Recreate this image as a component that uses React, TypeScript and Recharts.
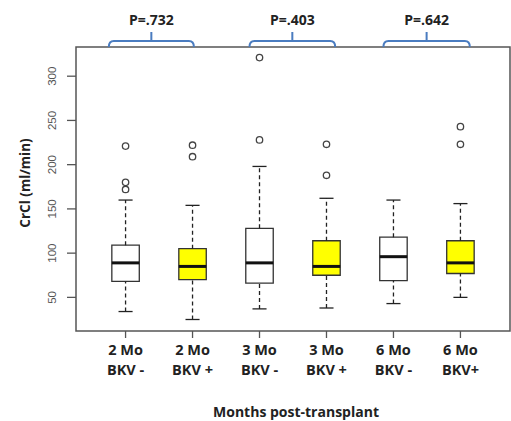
import React from "react";
import {
  ComposedChart,
  XAxis,
  YAxis,
  Scatter,
  ReferenceArea,
  ReferenceLine,
} from "recharts";

// groups, left to right
const months = ["2 Mo", "2 Mo", "3 Mo", "3 Mo", "6 Mo", "6 Mo"];
const groups = ["BKV -", "BKV +", "BKV -", "BKV +", "BKV -", "BKV+"];
const boxFills = ["#ffffff", "#ffff00", "#ffffff", "#ffff00", "#ffffff", "#ffff00"];

// five-number summaries (ml/min)
const lowerWhisker = [34, 25, 37, 38, 43, 50];
const q1 = [68, 70, 66, 75, 69, 77];
const median = [89, 85, 89, 85, 96, 89];
const q3 = [109, 105, 128, 114, 118, 114];
const upperWhisker = [160, 154, 198, 162, 160, 156];
const outliers = [[221, 180, 172], [222, 209], [321, 228], [223, 188], [], [243, 223]];

const yTicks = [50, 100, 150, 200, 250, 300];
const pValues = ["P=.732", "P=.403", "P=.642"];
// brace spans, in group units
const braces = [
  [0.75, 2.02],
  [2.85, 4.13],
  [4.85, 6.14],
];

const X_DOMAIN: [number, number] = [0.26, 6.74];
const Y_DOMAIN: [number, number] = [12, 333];
const HALF_BOX = 0.205;
const HALF_CAP = 0.105;

const outlierData = outliers.flatMap((vals, i) => vals.map((v) => ({ x: i + 1, y: v })));

const YTick = (props: any) => {
  const { x, y, payload } = props;
  const tx = x - 11;
  return (
    <text
      x={tx}
      y={y}
      transform={`rotate(-90, ${tx}, ${y})`}
      textAnchor="middle"
      fontSize={11.5}
      fontFamily="Liberation Sans, Arial, sans-serif"
      fill="#555"
    >
      {payload.value}
    </text>
  );
};

const XTick = (props: any) => {
  const { x, y, payload } = props;
  const i = payload.value - 1;
  return (
    <text
      x={x}
      y={y}
      textAnchor="middle"
      fontSize={14.5}
      fontWeight="bold"
      fontFamily="Open Sans, sans-serif"
      fill="#222"
    >
      <tspan x={x} dy={15}>{months[i]}</tspan>
      <tspan x={x} dy={20}>{groups[i]}</tspan>
    </text>
  );
};

const BraceShape = (props: any) => {
  const { x1, x2, y1, label } = props;
  const y = y1;
  const h = y - 6;
  const mid = (x1 + x2) / 2;
  const d =
    `M${x1},${y} Q${x1},${h} ${x1 + 5},${h} L${x2 - 5},${h} Q${x2},${h} ${x2},${y}` +
    ` M${mid},${h} L${mid},${h - 9}`;
  return (
    <g>
      <path d={d} fill="none" stroke="#4a7cc0" strokeWidth={2} />
      <text
        x={mid}
        y={h - 16}
        textAnchor="middle"
        fontSize={14}
        fontWeight="bold"
        fontFamily="Open Sans, sans-serif"
        fill="#222"
      >
        {label}
      </text>
    </g>
  );
};

export default function App() {
  return (
    <div style={{ position: "absolute", left: 0, top: 0, background: "#fff" }}>
      <ComposedChart
        width={511}
        height={421}
        margin={{ top: 47, right: 1, left: 0, bottom: 0 }}
      >
        <XAxis
          type="number"
          dataKey="x"
          domain={X_DOMAIN}
          ticks={[1, 2, 3, 4, 5, 6]}
          allowDataOverflow
          interval={0}
          height={90}
          axisLine={false}
          tickSize={7}
          tickLine={{ stroke: "#555", strokeWidth: 1.3 }}
          tick={<XTick />}
          label={{
            content: ({ viewBox }: any) => (
              <text
                x={viewBox.x + viewBox.width / 2 + 3}
                y={viewBox.y + 86}
                textAnchor="middle"
                fontSize={14}
                fontWeight="bold"
                fontFamily="Open Sans, sans-serif"
                fill="#222"
              >
                Months post-transplant
              </text>
            ),
          }}
        />
        <YAxis
          type="number"
          dataKey="y"
          domain={Y_DOMAIN}
          ticks={yTicks}
          allowDataOverflow
          width={76}
          axisLine={false}
          tickSize={9}
          tickMargin={0}
          tickLine={{ stroke: "#555", strokeWidth: 1.3 }}
          tick={<YTick />}
          label={{
            content: ({ viewBox }: any) => {
              const cx = viewBox.x + 30;
              const cy = viewBox.y + viewBox.height / 2 - 6;
              return (
                <text
                  x={cx}
                  y={cy}
                  transform={`rotate(-90, ${cx}, ${cy})`}
                  textAnchor="middle"
                  fontSize={13.5}
                  fontWeight="bold"
                  fontFamily="Open Sans, sans-serif"
                  fill="#222"
                >
                  CrCl (ml/min)
                </text>
              );
            },
          }}
        />

        {/* plot frame */}
        <ReferenceArea
          x1={X_DOMAIN[0]}
          x2={X_DOMAIN[1]}
          y1={Y_DOMAIN[0]}
          y2={Y_DOMAIN[1]}
          fill="none"
          fillOpacity={0}
          stroke="#555"
          strokeWidth={1.5}
          ifOverflow="visible"
        />

        {/* whiskers */}
        {months.map((_, i) => (
          <ReferenceLine
            key={`wu${i}`}
            segment={[{ x: i + 1, y: q3[i] }, { x: i + 1, y: upperWhisker[i] }]}
            stroke="#222"
            strokeWidth={1.3}
            strokeDasharray="4 3"
          />
        ))}
        {months.map((_, i) => (
          <ReferenceLine
            key={`wl${i}`}
            segment={[{ x: i + 1, y: lowerWhisker[i] }, { x: i + 1, y: q1[i] }]}
            stroke="#222"
            strokeWidth={1.3}
            strokeDasharray="4 3"
          />
        ))}
        {months.map((_, i) => (
          <ReferenceLine
            key={`cu${i}`}
            segment={[
              { x: i + 1 - HALF_CAP, y: upperWhisker[i] },
              { x: i + 1 + HALF_CAP, y: upperWhisker[i] },
            ]}
            stroke="#222"
            strokeWidth={1.3}
          />
        ))}
        {months.map((_, i) => (
          <ReferenceLine
            key={`cl${i}`}
            segment={[
              { x: i + 1 - HALF_CAP, y: lowerWhisker[i] },
              { x: i + 1 + HALF_CAP, y: lowerWhisker[i] },
            ]}
            stroke="#222"
            strokeWidth={1.3}
          />
        ))}

        {/* boxes */}
        {months.map((_, i) => (
          <ReferenceArea
            key={`b${i}`}
            x1={i + 1 - HALF_BOX}
            x2={i + 1 + HALF_BOX}
            y1={q1[i]}
            y2={q3[i]}
            fill={boxFills[i]}
            fillOpacity={1}
            stroke="#333"
            strokeWidth={1.3}
          />
        ))}
        {months.map((_, i) => (
          <ReferenceLine
            key={`m${i}`}
            segment={[
              { x: i + 1 - HALF_BOX, y: median[i] },
              { x: i + 1 + HALF_BOX, y: median[i] },
            ]}
            stroke="#111"
            strokeWidth={3}
          />
        ))}

        {/* braces with p-values */}
        {braces.map(([a, b], i) => (
          <ReferenceLine
            key={`br${i}`}
            segment={[{ x: a, y: Y_DOMAIN[1] }, { x: b, y: Y_DOMAIN[1] }]}
            ifOverflow="visible"
            shape={(p: any) => <BraceShape {...p} label={pValues[i]} />}
          />
        ))}

        <Scatter
          data={outlierData}
          dataKey="y"
          isAnimationActive={false}
          shape={(p: any) => (
            <circle cx={p.cx} cy={p.cy} r={3.2} fill="none" stroke="#444" strokeWidth={1.3} />
          )}
        />
      </ComposedChart>
    </div>
  );
}
